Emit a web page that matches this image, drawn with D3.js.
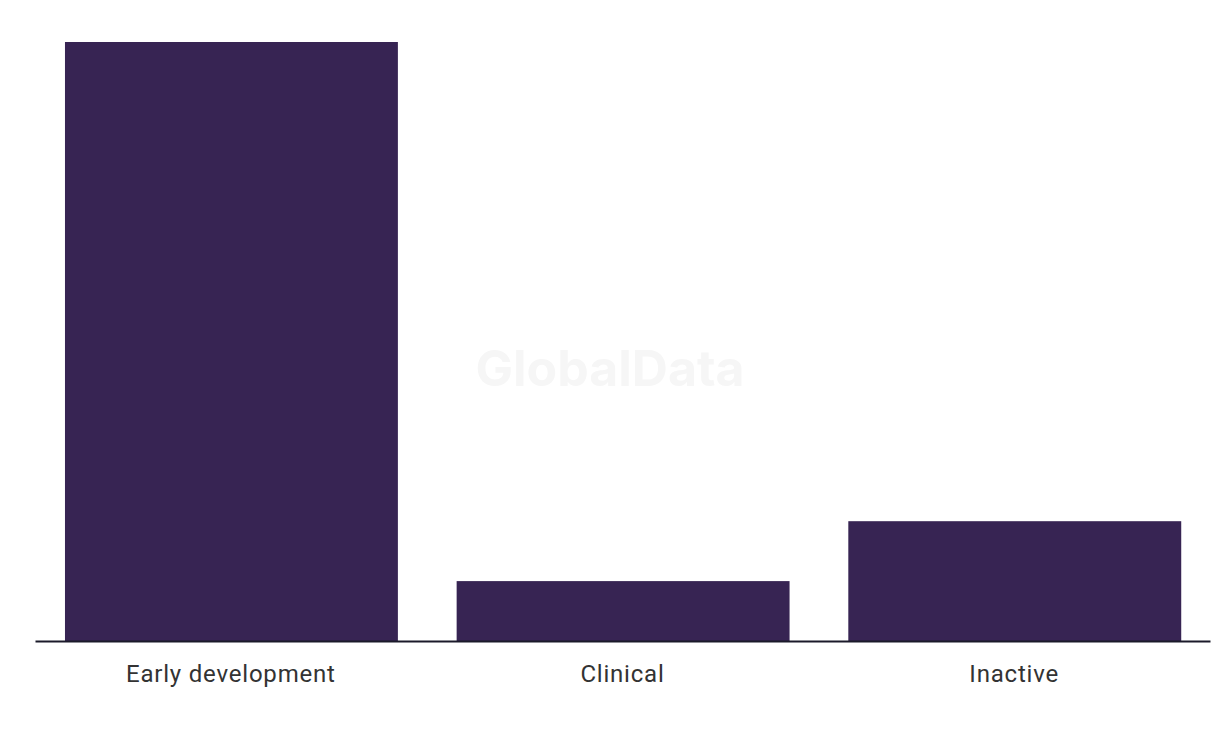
<!DOCTYPE html>
<html>
<head>
<meta charset="utf-8">
<script src="https://cdn.jsdelivr.net/npm/d3@7"></script>
<style>
html,body{margin:0;padding:0;background:#fff;}
svg{display:block;}
</style>
</head>
<body>
<svg id="chart" width="1220" height="736"></svg>
<script>
const categories = ["Early development", "Clinical", "Inactive"];
const values = [10, 1, 2];

(function () {
const svg = d3.select("#chart");
const mLeft = 35, mRight = 1210, mTop = 42, mBottom = 641;

const x = d3.scaleBand().domain(categories).range([mLeft, mRight]).paddingInner(0.15).paddingOuter(0.075);
const y = d3.scaleLinear().domain([0, 10]).range([mBottom, mTop]);

svg.append("text")
  .attr("x", 610).attr("y", 386)
  .attr("text-anchor", "middle")
  .attr("font-family", "Inter, Roboto, sans-serif")
  .attr("font-weight", 700)
  .attr("font-size", 50)
  .attr("fill", "#f6f6f6")
  .text("GlobalData");

svg.selectAll("rect.bar").data(categories).enter().append("rect")
  .attr("class", "bar")
  .attr("x", d => x(d) + 0.6)
  .attr("width", x.bandwidth())
  .attr("y", (d, i) => y(values[i]))
  .attr("height", (d, i) => y(0) - y(values[i]))
  .attr("fill", "#372453");

const axis = svg.append("g").attr("transform", `translate(0,${mBottom})`)
  .call(d3.axisBottom(x).tickSize(0).tickPadding(0));
axis.select(".domain").attr("stroke", "#1b1a2a").attr("stroke-width", 2);
axis.selectAll(".tick text")
  .attr("dy", 0).attr("y", 41)
  .attr("font-family", "Roboto, sans-serif")
  .attr("font-size", 24)
  .attr("letter-spacing", "0.8px")
  .attr("fill", "#333");
})();
</script>
</body>
</html>
